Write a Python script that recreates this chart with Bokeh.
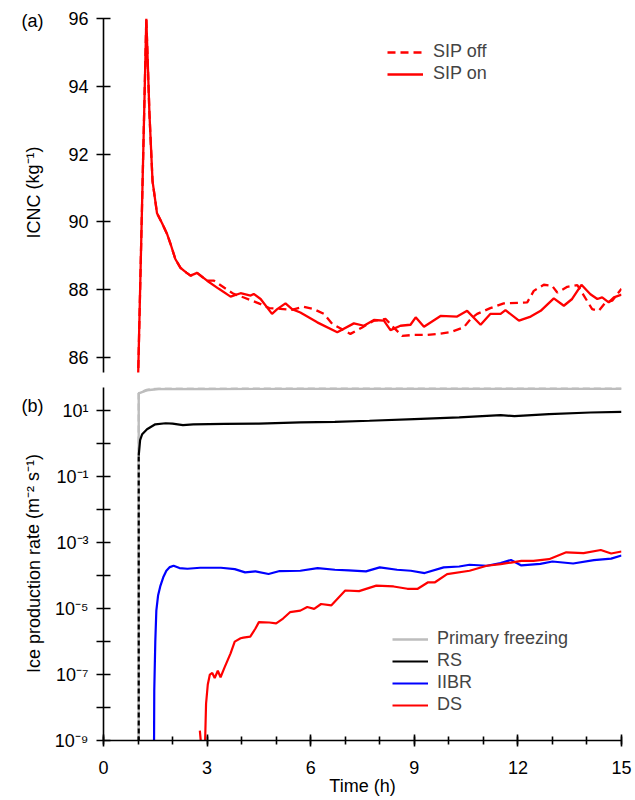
import math
from bokeh.plotting import figure
from bokeh.layouts import column, row
from bokeh.models import (Range1d, FixedTicker, SingleIntervalTicker, CustomJSTickFormatter,
                          Legend, LegendItem)
from bokeh.core.properties import value
from bokeh.embed import file_html
from bokeh.resources import INLINE

FONT = "Liberation Sans"
nan = float("nan")

# ---------------- panel (a): ICNC ----------------
icnc_on_t = [1.00, 1.24, 1.33, 1.42, 1.55, 1.70, 1.84, 1.94, 2.08, 2.23, 2.40, 2.52, 2.71, 3.00,
             3.34, 3.68, 3.97, 4.26, 4.35, 4.55, 4.88, 5.03, 5.27, 5.46, 5.70, 6.19, 6.77, 7.25,
             7.54, 7.83, 8.12, 8.31, 8.60, 8.89, 9.04, 9.28, 9.76, 10.24, 10.53, 10.92, 11.20,
             11.50, 11.64, 12.03, 12.37, 12.66, 13.04, 13.33, 13.57, 13.84, 14.10, 14.30, 14.44,
             14.63, 14.78, 15.00]
icnc_on = [85.3, 96.0, 93.2, 91.2, 90.25, 89.95, 89.64, 89.35, 88.9, 88.64, 88.5, 88.41, 88.49, 88.26,
           88.02, 87.79, 87.89, 87.82, 87.87, 87.72, 87.28, 87.42, 87.59, 87.42, 87.32, 87.03, 86.74, 87.0,
           86.93, 87.1, 87.08, 86.8, 86.93, 86.96, 87.18, 86.9, 87.22, 87.2, 87.37, 86.96, 87.28,
           87.28, 87.39, 87.08, 87.2, 87.37, 87.74, 87.52, 87.72, 88.14, 87.86, 87.72, 87.77,
           87.62, 87.77, 87.85]

icnc_off_t = [1.00, 1.24, 1.33, 1.42, 1.55, 1.70, 1.84, 1.94, 2.08, 2.23, 2.40, 2.52, 2.71, 3.00,
              3.20, 3.50, 3.77, 4.10, 4.55, 4.80, 5.12, 5.45, 5.80, 6.09, 6.38, 6.62, 7.15, 7.49,
              7.83, 8.17, 8.40, 8.65, 8.99, 9.37, 9.76, 10.05, 10.43, 10.63, 10.82, 11.20, 11.59,
              12.27, 12.46, 12.75, 12.99, 13.14, 13.43, 13.72, 13.91, 14.15, 14.34, 14.54, 14.73, 15.00]
icnc_off = [85.3, 96.0, 93.2, 91.2, 90.25, 89.95, 89.64, 89.35, 88.9, 88.64, 88.5, 88.41, 88.49, 88.26,
            88.26, 88.05, 87.87, 87.75, 87.57, 87.45, 87.43, 87.40, 87.49, 87.42, 87.28, 86.99, 86.69, 86.88,
            87.08, 87.13, 86.88, 86.63, 86.66, 86.66, 86.70, 86.74, 86.88, 87.13, 87.28, 87.45, 87.59,
            87.62, 87.96, 88.14, 88.11, 87.91, 88.08, 88.13, 87.82, 87.42, 87.37, 87.62, 87.67, 88.02]

a_yticks = [86, 88, 90, 92, 94, 96]

# ---------------- panel (b): ice production rate ----------------
pf_t = [1.02, 1.02, 1.25, 1.60, 3.0, 6.0, 9.0, 12.0, 15.0]
pf_on = [1e-10, 34.0, 42.0, 46.0, 46.0, 46.5, 46.5, 46.5, 46.5]
pf_off = [1e-10, 34.0, 43.0, 48.0, 48.0, 48.5, 48.5, 48.5, 48.5]

rs_jump_t = [1.02, 1.02]
rs_jump = [1e-10, 0.44]

rs_t = [1.02, 1.06, 1.12, 1.26, 1.50, 1.80, 2.00, 2.30, 2.60, 3.50, 4.50, 5.70, 6.70, 7.70,
        9.00, 10.30, 11.50, 11.90, 12.90, 14.10, 15.00]
rs = [0.44, 1.3, 1.95, 2.75, 3.9, 4.2, 4.1, 3.7, 3.9, 4.0, 4.1, 4.47, 4.6, 5.0,
      5.6, 6.3, 7.4, 6.9, 7.9, 8.9, 9.3]

iibr_t = [1.46, 1.47, 1.50, 1.53, 1.58, 1.65, 1.73, 1.82, 1.92, 2.03, 2.20, 2.43, 2.80, 3.40,
          3.80, 4.10, 4.40, 4.78, 5.10, 5.70, 6.20, 6.70, 7.10, 7.60, 8.00, 8.50, 8.90, 9.30,
          9.85, 10.30, 10.60, 11.10, 11.50, 11.80, 12.10, 12.65, 13.00, 13.60, 14.20, 14.70, 15.00]
iibr = [1e-10, 3.2e-8, 1.0e-6, 8.7e-6, 2.5e-5, 5.0e-5, 8.9e-5, 1.41e-4, 1.82e-4, 2.0e-4, 1.7e-4,
        1.62e-4, 1.74e-4, 1.74e-4, 1.58e-4, 1.26e-4, 1.35e-4, 1.12e-4, 1.38e-4, 1.41e-4, 1.7e-4,
        1.51e-4, 1.45e-4, 1.35e-4, 1.78e-4, 1.51e-4, 1.41e-4, 1.2e-4, 1.78e-4, 1.9e-4, 2.14e-4,
        2.0e-4, 2.4e-4, 3.0e-4, 2.04e-4, 2.29e-4, 2.69e-4, 2.34e-4, 2.95e-4, 3.3e-4, 4.07e-4]

ds_t = [2.79, 2.86, nan, 2.93, 2.97, 3.02, 3.08, 3.15, 3.22, 3.31, 3.39, 3.50, 3.68, 3.80, 3.97,
        4.05, 4.25, 4.40, 4.50, 4.80, 5.00, 5.20, 5.40, 5.70, 5.90, 6.10, 6.30, 6.60, 7.00, 7.40,
        7.90, 8.40, 8.80, 9.10, 9.40, 9.60, 9.95, 10.60, 11.10, 11.50, 11.80, 12.10, 12.45, 12.90,
        13.40, 13.90, 14.40, 14.70, 15.00]
ds = [2.0e-9, 3.0e-10, nan, 3.0e-10, 1.3e-8, 5.0e-8, 1.0e-7, 1.12e-7, 7.9e-8, 1.3e-7, 8.3e-8, 1.6e-7,
      4.4e-7, 1.0e-6, 1.26e-6, 1.32e-6, 1.41e-6, 2.5e-6, 3.9e-6, 3.8e-6, 3.55e-6, 5.0e-6, 7.8e-6,
      8.7e-6, 1.12e-5, 9.8e-6, 1.38e-5, 1.26e-5, 3.55e-5, 3.4e-5, 5.0e-5, 4.7e-5, 4.0e-5, 4.0e-5,
      6.3e-5, 6.3e-5, 1.12e-4, 1.41e-4, 2.0e-4, 2.24e-4, 2.5e-4, 2.8e-4, 2.8e-4, 3.16e-4, 5.1e-4,
      4.8e-4, 6.0e-4, 4.7e-4, 5.4e-4]

b_yticks = [1e-9, 1e-8, 1e-7, 1e-6, 1e-5, 1e-4, 1e-3, 1e-2, 1e-1, 1e0, 1e1]
b_ytick_labels = ["10\u207b\u2079", "", "10\u207b\u2077", "", "10\u207b\u2075", "",
                  "10\u207b\u00b3", "", "10\u207b\u00b9", "", "10\u00b9"]

# texts in the left strip: panel letters and y-axis titles
strip_texts = ["(a)", "(b)", "ICNC (kg\u207b\u00b9)", "Ice production rate (m\u207b\u00b2 s\u207b\u00b9)"]

RED = "#ff0000"
BLUE = "#0000ff"
GRAY = "#bdbdbd"

STRIP_W = 50
W = 585
H1 = 380
H2 = 420


def style_axis(ax):
    ax.axis_line_width = 1.6
    ax.axis_line_color = "black"
    ax.major_tick_line_width = 1.6
    ax.minor_tick_line_width = 1.6
    ax.major_tick_in = 7
    ax.major_tick_out = 7
    ax.minor_tick_in = 4
    ax.minor_tick_out = 4
    ax.major_label_text_font = FONT
    ax.major_label_text_font_size = "18px"
    ax.major_label_text_color = "black"
    ax.axis_label_text_font = FONT
    ax.axis_label_text_font_size = "18px"
    ax.axis_label_text_font_style = "normal"
    ax.axis_label_text_color = "black"


x_range = Range1d(0, 15)

# ---------- top figure ----------
p1 = figure(width=W, height=H1, x_range=x_range, y_range=Range1d(85.55, 96),
            output_backend="svg", toolbar_location=None, x_axis_location=None,
            min_border_left=53, min_border_right=14, min_border_top=18, min_border_bottom=8)
p1.grid.visible = False
p1.outline_line_color = None
r_off = p1.line(icnc_off_t, icnc_off, line_color=RED, line_width=2.3, line_dash="8 5")
r_on = p1.line(icnc_on_t, icnc_on, line_color=RED, line_width=2.3)
style_axis(p1.yaxis[0])
p1.yaxis.ticker = FixedTicker(ticks=a_yticks, minor_ticks=[])
p1.yaxis.major_label_standoff = 8

leg1 = Legend(items=[LegendItem(label="SIP off", renderers=[r_off]),
                     LegendItem(label="SIP on", renderers=[r_on])],
              location=(284, 288), glyph_width=36, glyph_height=20, label_height=20,
              label_standoff=10, label_text_font=FONT, label_text_font_size="18px",
              padding=0, spacing=1, margin=0, border_line_alpha=0, background_fill_alpha=0)
p1.add_layout(leg1)

# ---------- bottom figure ----------
p2 = figure(width=W, height=H2, x_range=x_range, y_range=Range1d(1e-9, 51), y_axis_type="log",
            output_backend="svg", toolbar_location=None,
            min_border_left=53, min_border_right=14, min_border_top=7, min_border_bottom=H2 - 360)
p2.grid.visible = False
p2.outline_line_color = None
r_pf = p2.line(pf_t, pf_on, line_color=GRAY, line_width=2.4)
p2.line(pf_t, pf_off, line_color=GRAY, line_width=2.4, line_dash="7 4")
r_rs = p2.line(rs_t, rs, line_color="black", line_width=2.2)
p2.line(rs_jump_t, rs_jump, line_color="black", line_width=2.2, line_dash="5 3")
r_ii = p2.line(iibr_t, iibr, line_color=BLUE, line_width=2.2)
r_ds = p2.line(ds_t, ds, line_color=RED, line_width=2.2)

style_axis(p2.yaxis[0])
style_axis(p2.xaxis[0])
p2.yaxis.ticker = FixedTicker(ticks=b_yticks, minor_ticks=[])
p2.yaxis.formatter = CustomJSTickFormatter(args=dict(tvals=b_yticks, tlabels=b_ytick_labels), code="""
let best = 0, bd = Infinity;
for (let i = 0; i < tvals.length; i++) {
  const d = Math.abs(Math.log10(tvals[i]) - Math.log10(tick));
  if (d < bd) { bd = d; best = i; }
}
return tlabels[best];
""")
p2.yaxis.major_label_standoff = 8

p2.xaxis.ticker = SingleIntervalTicker(interval=3, num_minor_ticks=3)
p2.xaxis.major_tick_in = 6
p2.xaxis.major_tick_out = 6
p2.xaxis.major_label_standoff = 14
p2.xaxis.axis_label = "Time (h)"
p2.xaxis.axis_label_standoff = -1

leg2 = Legend(items=[LegendItem(label="Primary freezing", renderers=[r_pf]),
                     LegendItem(label="RS", renderers=[r_rs]),
                     LegendItem(label="IIBR", renderers=[r_ii]),
                     LegendItem(label="DS", renderers=[r_ds])],
              location=(289, 25), glyph_width=36, glyph_height=20, label_height=20,
              label_standoff=9, label_text_font=FONT, label_text_font_size="18px",
              padding=0, spacing=1, margin=0, border_line_alpha=0, background_fill_alpha=0)
p2.add_layout(leg2)

# ---------- left strip with panel letters and y-axis titles ----------
HT = H1 + H2
ps = figure(width=STRIP_W, height=HT, x_range=Range1d(0, STRIP_W), y_range=Range1d(HT, 0),
            output_backend="svg", toolbar_location=None, x_axis_location=None, y_axis_location=None,
            min_border_left=0, min_border_right=0, min_border_top=0, min_border_bottom=0)
ps.grid.visible = False
ps.outline_line_color = None
ps.text(x=[32, 32, 33, 33], y=[20, 405, 192, 563], text=strip_texts,
        angle=[0, 0, math.pi / 2, math.pi / 2],
        text_align="center", text_baseline="middle", text_font=value(FONT),
        text_font_size="18px", text_color="black")

p = row(ps, column(p1, p2))
open("out.html", "w").write(file_html(p, INLINE))
